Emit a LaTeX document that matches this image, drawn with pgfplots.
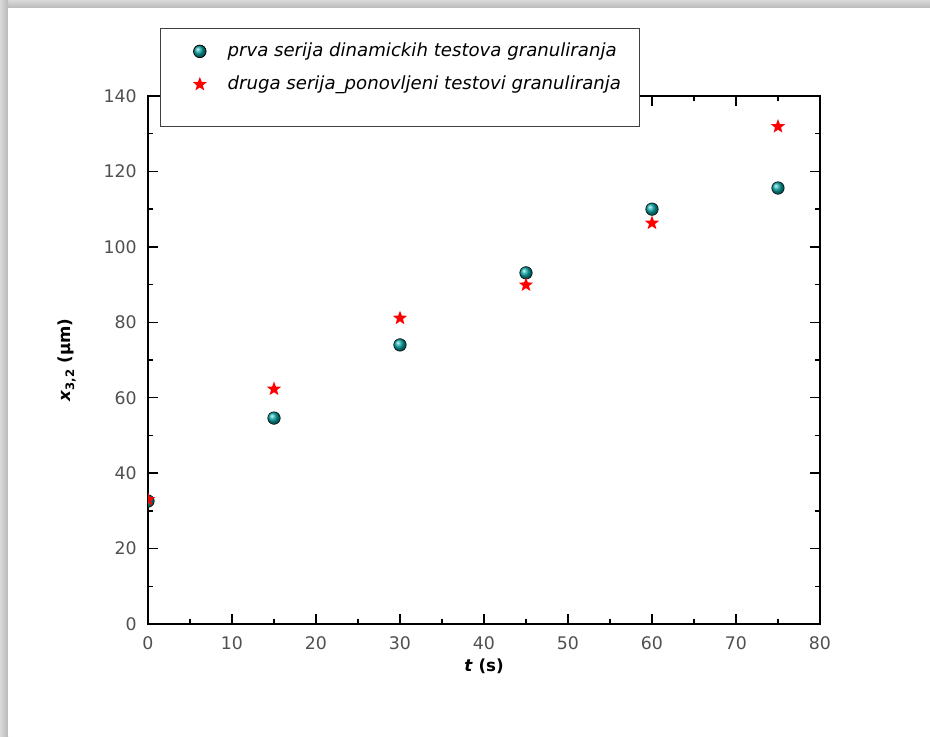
\documentclass[border=0pt]{standalone}
\usepackage{fontspec}
\setmainfont{DejaVu Sans}
\usepackage{pgfplots}
\pgfplotsset{compat=1.18}
\definecolor{tealball}{RGB}{10,165,165}
\definecolor{ticklab}{RGB}{80,80,80}
\pgfdeclareplotmark{fstar}{%
  \pgfpathmoveto{\pgfqpointpolar{90}{\pgfplotmarksize}}%
  \pgfpathlineto{\pgfqpointpolar{126}{0.42\pgfplotmarksize}}%
  \pgfpathlineto{\pgfqpointpolar{162}{\pgfplotmarksize}}%
  \pgfpathlineto{\pgfqpointpolar{198}{0.42\pgfplotmarksize}}%
  \pgfpathlineto{\pgfqpointpolar{234}{\pgfplotmarksize}}%
  \pgfpathlineto{\pgfqpointpolar{270}{0.42\pgfplotmarksize}}%
  \pgfpathlineto{\pgfqpointpolar{306}{\pgfplotmarksize}}%
  \pgfpathlineto{\pgfqpointpolar{342}{0.42\pgfplotmarksize}}%
  \pgfpathlineto{\pgfqpointpolar{18}{\pgfplotmarksize}}%
  \pgfpathlineto{\pgfqpointpolar{54}{0.42\pgfplotmarksize}}%
  \pgfpathclose\pgfusepathqfill}
\begin{document}
\begin{tikzpicture}
\fill[gray!50] (0,0) rectangle (697.5pt,552pt);
\shade[top color=gray!30,bottom color=gray!55] (0,546pt) rectangle (697.5pt,552pt);
\shade[left color=gray!30,right color=gray!55] (0,0) rectangle (6pt,552pt);
\fill[white] (6pt,0) rectangle (697.5pt,546pt);
\begin{scope}
\clip (0,0) -- (697.5pt,0) -- (697.5pt,552pt) -- (0,552pt) -- (0,187pt) -- (110.4pt,187pt) -- (110.4pt,168pt) -- (0,168pt) -- cycle;
\begin{axis}[
  at={(111pt,84pt)}, anchor=south west,
  scale only axis, width=504pt, height=396pt,
  xmin=0, xmax=80, ymin=0, ymax=140,
  xtick={0,10,...,80}, ytick={0,20,...,140},
  minor xtick={5,15,...,75}, minor ytick={10,30,...,130},
  tick align=inside,
  major tick length=7.5pt, minor tick length=3.8pt,
  axis line style={line width=1.3pt},
  every tick/.style={black, line width=1.1pt},
  /pgf/number format/assume math mode=true,
  tick label style={font=\fontsize{13}{15}\selectfont, text=ticklab},
  yticklabel style={xshift=-5pt},
  xticklabel style={yshift=-6pt},
  xlabel={\textbf{\textit{t} (s)}},
  ylabel={\textbf{\textit{x}\textsubscript{3,2} (µm)}},
  label style={font=\fontsize{12.5}{14}\selectfont},
  xlabel style={yshift=0pt},
  ylabel style={yshift=14pt},
  clip marker paths=true,
  legend cell align=left,
  legend image code/.code={%
    \path (-17.25pt,0pt) (8.5pt,0pt);
    \draw[mark repeat=2,mark phase=2,#1] plot coordinates {(-8.5pt,0pt)(0pt,0pt)(8.5pt,0pt)};},
  legend style={at={(axis description cs:0.0179,1.1288)}, anchor=north west,
    draw=black!75, line width=0.6pt, fill=white,
    font=\fontsize{13.6}{15}\selectfont\itshape,
    inner xsep=12pt, inner ysep=10.75pt, row sep=11.75pt,
    nodes={inner ysep=0pt, text height=10pt, text depth=3pt},
    /tikz/every odd column/.append style={column sep=10pt}},
]
\addplot[only marks, mark=ball, ball color=tealball, mark size=4.7pt] coordinates {
  (0,32.6) (15,54.6) (30,74.0) (45,93.1) (60,110.0) (75,115.6)
};
\addlegendentry{prva serija dinamickih testova granuliranja}
\addplot[only marks, mark=fstar, color=red, mark size=5.6pt] coordinates {
  (0,33.0) (15,62.3) (30,81.1) (45,89.9) (60,106.3) (75,131.9)
};
\addlegendentry{druga serija\_ponovljeni testovi granuliranja}
\addlegendimage{empty legend}
\addlegendentry[text height=2.5pt, text depth=0pt]{}
\end{axis}
\end{scope}
\pgfresetboundingbox
\useasboundingbox (0,0) rectangle (697.5pt,552pt);
\end{tikzpicture}
\end{document}
